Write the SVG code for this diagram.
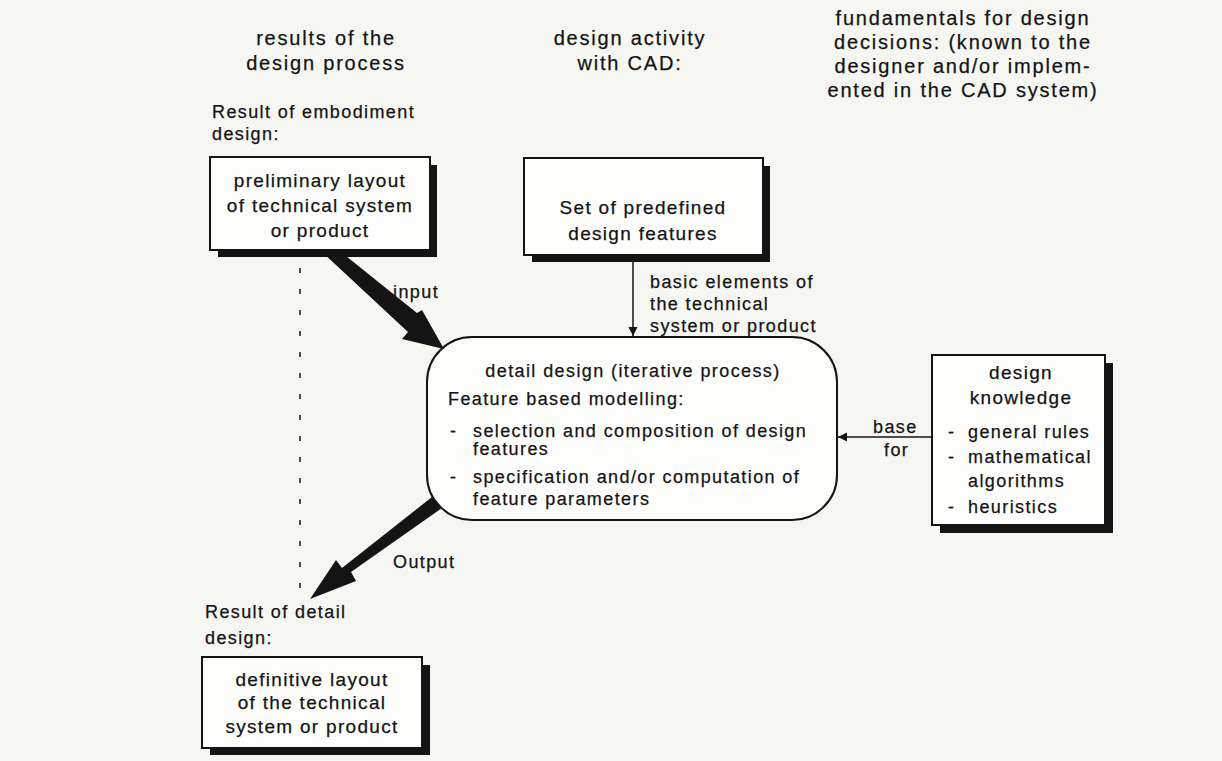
<svg xmlns="http://www.w3.org/2000/svg" width="1222" height="761" viewBox="0 0 1222 761">
<defs>
<style>
text{font-family:"Liberation Sans",Arial,sans-serif;font-size:18px;fill:#141414;letter-spacing:1.4px;stroke:#141414;stroke-width:0.25}
.h{font-size:20px;letter-spacing:1.8px}
.b{font-size:19px;letter-spacing:1.3px}
.m{text-anchor:middle}
.box{fill:#fdfdfc;stroke:#141414;stroke-width:2}
.sh{fill:#141414}
.thin{stroke:#141414;stroke-width:1.5;fill:none}
.thick{fill:#141414}
</style>
<marker id="ah" viewBox="0 0 10 10" refX="10" refY="5" markerWidth="9" markerHeight="13" markerUnits="userSpaceOnUse" orient="auto"><path d="M0,0 L10,5 L0,10 z" fill="#141414"/></marker>
</defs>
<rect width="1222" height="761" fill="#f6f6f3"/>

<g id="headers">
<text class="h m" x="326" y="45">results of the</text>
<text class="h m" x="326" y="70">design process</text>
<text class="h m" x="630" y="45">design activity</text>
<text class="h m" x="630" y="70">with CAD:</text>
<text class="h m" x="963" y="25">fundamentals for design</text>
<text class="h m" x="963" y="49">decisions: (known to the</text>
<text class="h m" x="963" y="73">designer and/or implem-</text>
<text class="h m" x="963" y="97">ented in the CAD system)</text>
</g>

<g id="connectors">
<line class="thin" x1="300" y1="268" x2="300" y2="600" stroke-dasharray="5 16" stroke-width="2"/>
<path class="thick" d="M322,252 L341,252 L417,313 L422,310 L444,349 L402,339 L408,332 Z"/>
<line class="thin" x1="633" y1="257" x2="633" y2="336" marker-end="url(#ah)"/>
<line class="thin" x1="932" y1="437" x2="838" y2="437" marker-end="url(#ah)"/>
<path class="thick" d="M432,497 L442,508 L351,572 L356,581 L310,599 L336,560 L342,568 Z"/>
<text x="393" y="298">input</text>
<text x="650" y="288">basic elements of</text>
<text x="650" y="310">the technical</text>
<text x="650" y="332">system or product</text>
<text x="873" y="433">base</text>
<text x="884" y="456">for</text>
<text x="393" y="568">Output</text>
</g>

<g id="preliminary">
<text x="212" y="118">Result of embodiment</text>
<text x="212" y="140">design:</text>
<rect class="sh" x="218" y="165" width="219" height="92"/>
<rect class="box" x="210" y="157" width="220" height="93"/>
<text class="b m" x="320" y="187">preliminary layout</text>
<text class="b m" x="320" y="212">of technical system</text>
<text class="b m" x="320" y="237">or product</text>
</g>

<g id="features">
<rect class="sh" x="532" y="166" width="238" height="96"/>
<rect class="box" x="524" y="158" width="239" height="97"/>
<text class="b m" x="643" y="214">Set of predefined</text>
<text class="b m" x="643" y="240">design features</text>
</g>

<g id="detail">
<rect class="box" x="427" y="337" width="410" height="183" rx="45" ry="45"/>
<text class="m" x="633" y="377">detail design (iterative process)</text>
<text x="448" y="405">Feature based modelling:</text>
<text x="450" y="437">-</text>
<text x="473" y="437">selection and composition of design</text>
<text x="473" y="455">features</text>
<text x="450" y="483">-</text>
<text x="473" y="483">specification and/or computation of</text>
<text x="473" y="505">feature parameters</text>
</g>

<g id="knowledge">
<rect class="sh" x="940" y="363" width="173" height="170"/>
<rect class="box" x="932" y="355" width="173" height="170"/>
<text class="b m" x="1021" y="379">design</text>
<text class="b m" x="1021" y="404">knowledge</text>
<text x="948" y="438">-</text>
<text x="968" y="438">general rules</text>
<text x="948" y="463">-</text>
<text x="968" y="463">mathematical</text>
<text x="968" y="487">algorithms</text>
<text x="948" y="513">-</text>
<text x="968" y="513">heuristics</text>
</g>

<g id="definitive">
<text x="205" y="618">Result of detail</text>
<text x="205" y="644">design:</text>
<rect class="sh" x="210" y="665" width="220" height="90"/>
<rect class="box" x="202" y="657" width="220" height="91"/>
<text class="b m" x="312" y="686">definitive layout</text>
<text class="b m" x="312" y="709">of the technical</text>
<text class="b m" x="312" y="733">system or product</text>
</g>
</svg>
